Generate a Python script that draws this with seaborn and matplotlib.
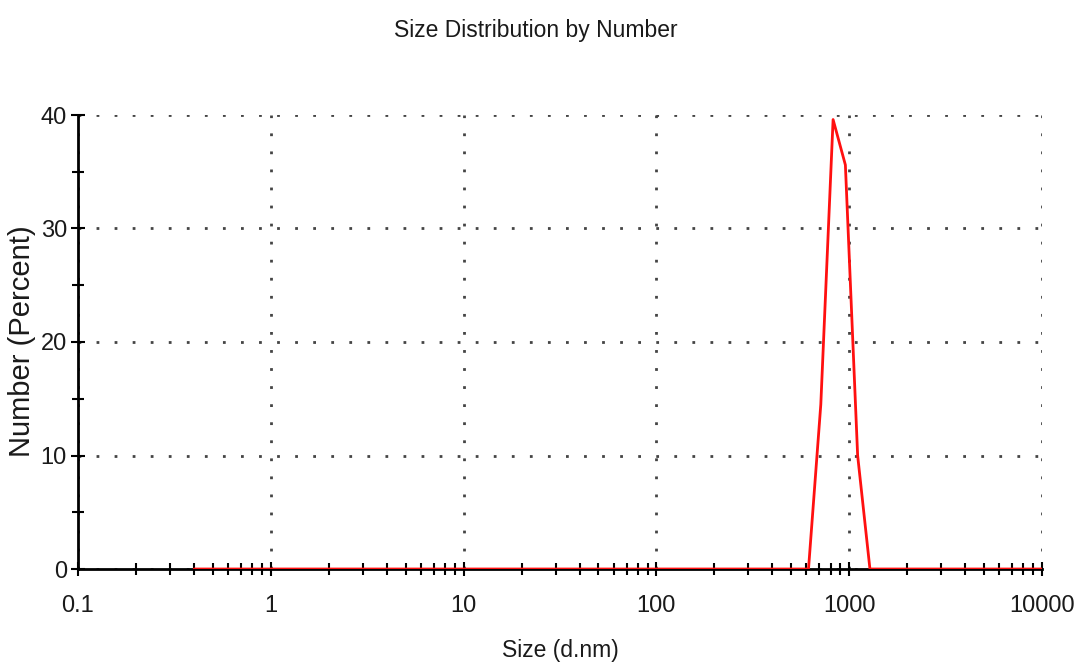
import matplotlib
matplotlib.use("Agg")
import matplotlib.pyplot as plt
import seaborn as sns
import pandas as pd
from matplotlib.ticker import LogLocator, FixedLocator, NullFormatter

sizes = [0.4, 615.1, 712.4, 825.0, 955.4, 1106, 1281, 10000]
number_pct = [0.0, 0.0, 14.5, 39.6, 35.6, 10.0, 0.0, 0.0]
x_ticks = [0.1, 1, 10, 100, 1000, 10000]
x_tick_labels = ["0.1", "1", "10", "100", "1000", "10000"]
y_ticks = [0, 10, 20, 30, 40]
y_minor_ticks = [5, 15, 25, 35]

sns.set_theme(style="white")
plt.rcParams['font.family'] = ['Liberation Sans', 'DejaVu Sans']
plt.rcParams['text.color'] = '#1a1a1a'

df = pd.DataFrame({"Size": sizes, "Number": number_pct})

fig = plt.figure(figsize=(10.78, 6.71), dpi=100)
ax = fig.add_axes([78/1078, 1 - 569/671, (1042-78)/1078, (569-115)/671])

sns.lineplot(data=df, x="Size", y="Number", ax=ax, color="#ff1010", linewidth=2, zorder=3)

ax.set_xscale("log")
ax.set_xlim(0.1, 10000)
ax.set_ylim(0, 40)

ax.xaxis.set_major_locator(FixedLocator(x_ticks))
ax.set_xticklabels(x_tick_labels)
ax.xaxis.set_minor_locator(LogLocator(base=10, subs=range(2, 10)))
ax.xaxis.set_minor_formatter(NullFormatter())
ax.yaxis.set_major_locator(FixedLocator(y_ticks))
ax.yaxis.set_minor_locator(FixedLocator(y_minor_ticks))

ax.grid(True, which="major", color="#444444", linestyle=(0, (1, 5.5)), linewidth=2)

for s in ["top", "right"]:
    ax.spines[s].set_visible(False)
for s in ["left", "bottom"]:
    ax.spines[s].set_color("black")
    ax.spines[s].set_linewidth(2)

ax.tick_params(axis="both", which="major", direction="inout", length=10, width=1.5,
               color="black", labelsize=17, labelcolor="#1a1a1a", left=True, bottom=True)
ax.tick_params(axis="y", which="major", pad=3)
ax.tick_params(axis="x", which="major", pad=14)
ax.tick_params(axis="both", which="minor", direction="inout", length=8, width=1.5,
               color="black", left=True, bottom=True)

ax.set_xlabel("Size (d.nm)", fontsize=16.5, color="#1a1a1a")
ax.xaxis.set_label_coords(0.5, -(651 - 569) / 454, transform=ax.transAxes)
ax.xaxis.label.set_va("center")
ax.set_ylabel("Number (Percent)", fontsize=21, color="#1a1a1a")
ax.yaxis.set_label_coords(-(78 - 22) / 964, (569 - 341) / 454, transform=ax.transAxes)
ax.yaxis.label.set_va("center")
fig.text(536/1078, 1 - 30/671, "Size Distribution by Number", ha="center", va="center", fontsize=16.5)

fig.savefig("out.png", dpi=100, facecolor="white")
